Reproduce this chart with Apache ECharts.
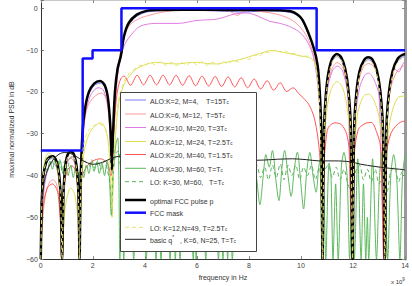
<!DOCTYPE html>
<html><head><meta charset="utf-8">
<script src="https://cdn.jsdelivr.net/npm/echarts/dist/echarts.min.js"></script>
<style>html,body{margin:0;padding:0;background:#fff}#c{width:412px;height:286px}</style>
</head><body><div id="c"></div>
<script>
// ---- axis ticks ----
const xTicks = [0, 2, 4, 6, 8, 10, 12, 14];
const yTicks = [0, -10, -20, -30, -40, -50, -60];

// ---- series values: [frequency (x1e9 Hz), PSD dB] ----
const fccMask = [[0,-34],[1.61,-34],[1.61,-12],[1.99,-12],[1.99,-10],[3.1,-10],[3.1,0],[10.6,0],[10.6,-10],[14,-10]];

const optimalP = [[0,-60],[0.04,-46],[0.1,-40],[0.2,-37],[0.3,-35.8],[0.45,-35.4],[0.6,-36.5],[0.7,-39.5],[0.77,-46],[0.82,-60],
[0.87,-45],[0.93,-38.5],[1.02,-35.2],[1.15,-34.2],[1.28,-35],[1.38,-38],[1.45,-45],[1.49,-60],
[1.53,-42],[1.6,-30],[1.7,-24],[1.85,-20],[2.05,-18],[2.28,-17.4],[2.45,-18.3],[2.57,-21],[2.65,-26],[2.7,-32],[2.73,-38.5],
[2.77,-31],[2.85,-20],[2.95,-14.5],[3.08,-11.3],[3.2,-6.6],[3.38,-3.5],[3.69,-1.5],[4.06,-0.6],[4.5,-0.4],[5.5,-0.35],[6.5,-0.35],[7.5,-0.4],[8.5,-0.4],[9.2,-0.45],[9.6,-0.7],[9.85,-1.4],[10.05,-2.7],[10.28,-5.8],[10.5,-9.7],[10.64,-13.7],[10.72,-20],[10.78,-30],[10.83,-60],
[10.88,-30],[10.95,-21],[11.05,-15.5],[11.2,-12],[11.38,-10.9],[11.55,-11.8],[11.7,-14.5],[11.82,-19.5],[11.91,-28],[11.98,-60],
[12.04,-29],[12.13,-20],[12.25,-15],[12.42,-12.4],[12.58,-11.7],[12.75,-12.3],[12.92,-15],[13.05,-20],[13.15,-29],[13.22,-60],
[13.28,-29],[13.38,-20],[13.52,-15],[13.72,-12],[13.9,-11.1],[14,-11]];

const aloK2 = [[0,-60],[0.04,-47],[0.1,-40.5],[0.2,-37.5],[0.3,-36.3],[0.45,-35.9],[0.6,-37],[0.7,-40],[0.77,-47],[0.82,-60],
[0.87,-46],[0.93,-39],[1.02,-35.7],[1.15,-34.7],[1.28,-35.5],[1.38,-38.5],[1.45,-46],[1.49,-60],
[1.53,-43],[1.6,-31],[1.7,-24.5],[1.85,-20.5],[2.05,-18.5],[2.28,-17.9],[2.45,-18.8],[2.57,-21.5],[2.65,-26.5],[2.7,-33],[2.73,-39],
[2.77,-32],[2.85,-21],[2.95,-15],[3.08,-11.8],[3.2,-7],[3.38,-3.9],[3.69,-1.9],[4.06,-0.9],[4.5,-0.6],[5.5,-0.5],[6.5,-0.55],[7.2,-0.7],[7.7,-0.9],[8.1,-0.8],[8.6,-0.6],[9.2,-0.7],[9.6,-1.0],[9.85,-1.7],[10.05,-3],[10.28,-6.1],[10.5,-10],[10.64,-14],[10.72,-20.5],[10.78,-30],[10.83,-60],
[10.88,-31],[10.95,-22],[11.05,-16],[11.2,-12.6],[11.38,-11.5],[11.55,-12.4],[11.7,-15],[11.82,-20],[11.91,-29],[11.98,-60],
[12.04,-30],[12.13,-21],[12.25,-15.6],[12.42,-13],[12.58,-12.3],[12.75,-12.9],[12.92,-15.6],[13.05,-21],[13.15,-30],[13.22,-60],
[13.28,-30],[13.38,-21],[13.52,-15.6],[13.72,-12.6],[13.9,-11.7],[14,-11.6]];

const aloK6 = [[0,-60],[0.08,-50],[0.2,-44],[0.35,-41.5],[0.47,-41],[0.6,-42],[0.72,-46],[0.8,-60],
[0.88,-44],[0.98,-38],[1.1,-35.8],[1.2,-35.5],[1.3,-36.5],[1.42,-41],[1.49,-60],
[1.55,-40],[1.65,-28],[1.8,-23.5],[2.0,-21.5],[2.2,-20.5],[2.35,-20.3],[2.5,-21.5],[2.6,-25],[2.68,-32],[2.73,-38],
[2.8,-30],[2.9,-20],[3.0,-13],[3.1,-9],[3.25,-6],[3.45,-3.8],[3.8,-2.4],[4.2,-1.6],[4.6,-1.0],[5,-0.6],[5.5,-0.4],[6,-0.35],[6.5,-0.6],[7,-0.35],[7.3,-0.8],[7.55,-1.7],[7.8,-0.7],[8.1,-0.45],[8.5,-0.8],[9.0,-1.3],[9.5,-2.3],[9.8,-3.5],[10.1,-5.5],[10.35,-8.5],[10.55,-13],[10.7,-20],[10.78,-30],[10.83,-60],
[10.9,-30],[11.0,-20],[11.15,-15],[11.38,-13],[11.6,-14],[11.75,-18],[11.88,-26],[11.97,-60],
[12.05,-28],[12.2,-18],[12.4,-14],[12.6,-13.2],[12.8,-14],[13.0,-17],[13.12,-24],[13.22,-60],
[13.3,-28],[13.45,-19],[13.7,-15],[14,-13.5]];

const aloK10 = [[0,-60],[0.1,-45],[0.25,-39],[0.45,-37],[0.6,-38],[0.72,-42],[0.8,-60],
[0.88,-42],[1.0,-37],[1.15,-35.8],[1.3,-37],[1.42,-42],[1.49,-60],
[1.55,-40],[1.7,-26],[1.9,-21],[2.2,-19],[2.4,-19.5],[2.6,-24],[2.72,-38],
[2.85,-22],[3.0,-14],[3.2,-9],[3.44,-6.6],[3.81,-4.3],[4.42,-3.6],[5.28,-3.6],[6,-2.9],[6.74,-2.6],[7.1,-2.0],[7.47,-1.3],[7.9,-1.1],[8.2,-1.5],[8.5,-2.3],[8.8,-3.1],[9.2,-3.6],[9.55,-4.3],[9.9,-5.5],[10.2,-7.5],[10.45,-11],[10.62,-17],[10.74,-27],[10.82,-60],
[10.9,-28],[11.0,-20],[11.2,-15],[11.4,-13.8],[11.6,-15],[11.8,-21],[11.97,-60],
[12.08,-27],[12.25,-19],[12.45,-16],[12.6,-15.5],[12.8,-17],[13.0,-21],[13.2,-60],
[13.3,-26],[13.45,-18],[13.6,-14.5],[13.75,-15.2],[13.9,-13.5],[14,-12.5]];

const aloK12 = [[0,-60],[0.06,-42],[0.15,-36.5],[0.3,-34.6],[0.45,-35.2],[0.6,-37.5],[0.72,-43],[0.81,-60],
[0.9,-50],[1.0,-45.5],[1.15,-43],[1.3,-44.5],[1.42,-50],[1.49,-60],
[1.55,-45],[1.65,-35],[1.8,-31],[2.0,-28.6],[2.3,-27.4],[2.45,-28.3],[2.58,-31.5],[2.67,-38],[2.74,-50],
[2.8,-38],[2.9,-28],[3.0,-22.5],[3.08,-20.3],[3.25,-17.5],[3.44,-16],[3.6,-14.8],[3.81,-14],[4.1,-13.3],[4.42,-12.9],[4.85,-13.2],[5.28,-13.3],[5.65,-13],[6,-12.9],[6.4,-13.2],[6.74,-13.3],[7.1,-12.9],[7.47,-12.5],[7.8,-12],[8.2,-11.2],[8.58,-10.5],[8.82,-10.1],[9.05,-10.2],[9.3,-10.5],[9.7,-11],[10.0,-11.4],[10.28,-11.7],[10.45,-12.3],[10.58,-14],[10.67,-19],[10.75,-28],[10.82,-60],
[10.9,-32],[11.0,-24],[11.15,-19.5],[11.38,-17.5],[11.6,-19],[11.78,-24],[11.92,-34],[11.98,-60],
[12.05,-34],[12.18,-25],[12.4,-21],[12.6,-20.5],[12.8,-22],[13.0,-26],[13.15,-34],[13.22,-60],
[13.3,-34],[13.45,-26],[13.7,-21.5],[13.95,-21],[14,-21]];

const aloK20 = [[0,-60],[0.08,-48],[0.25,-43],[0.45,-42],[0.65,-44],[0.78,-52],[0.85,-45],[1.0,-39],[1.2,-37.7],[1.35,-39],[1.47,-46],[1.55,-41],[1.75,-38],[2.0,-36.5],[2.3,-36],[2.55,-37],[2.7,-40],[2.8,-30],[2.9,-22],[2.97,-19],[3.08,-16.8],
[3.2,-16.2],[3.45,-18.4],[3.7,-16],[3.95,-18.3],[4.2,-16],[4.45,-18.3],[4.7,-16],[4.95,-18.3],[5.2,-16],[5.45,-18.4],[5.7,-16.1],[5.95,-18.5],[6.2,-16.2],[6.45,-18.6],[6.7,-16.3],[6.95,-18.7],[7.2,-16.4],[7.45,-18.8],[7.7,-16.6],[7.95,-19],[8.2,-16.9],[8.45,-19.3],[8.7,-17.3],[8.95,-19.6],[9.2,-17.8],[9.45,-19.9],[9.7,-19],[9.9,-20.3],[10.1,-21.5],[10.3,-23],[10.5,-26],[10.65,-31],[10.75,-38],[10.82,-60],
[10.88,-38],[10.95,-32],[11.05,-28.5],[11.3,-27.4],[11.55,-27.8],[11.75,-30],[11.85,-34],[11.95,-60],
[12.05,-35],[12.2,-29],[12.45,-27.6],[12.7,-27.3],[12.9,-29.5],[13.05,-33],[13.18,-60],
[13.28,-35],[13.45,-30],[13.7,-27.8],[13.95,-27],[14,-27]];

const aloK30 = [[0,-60],[0.08,-44],[0.15,-37.5],[0.25,-39],[0.35,-36.5],[0.45,-38.5],[0.55,-36],[0.65,-38.8],[0.75,-36.5],[0.85,-39.5],[0.95,-37],[1.05,-40],[1.15,-37.5],[1.25,-40.5],[1.35,-37.5],[1.45,-41],[1.55,-38],[1.65,-40.5],[1.75,-37.5],[1.85,-39.5],[1.95,-36.8],[2.05,-39],[2.15,-36.8],[2.25,-39.5],[2.35,-37],[2.45,-40],[2.55,-36.5],[2.63,-40],[2.71,-49.5],[2.8,-38],[2.9,-32],[2.96,-31],[3.0,-40],[3.04,-60],
[3.1,-45],[3.19,-60],[3.3,-35],[3.45,-40],[3.57,-60],[3.7,-38],[3.85,-35.5],[3.95,-42],[4.05,-60],[4.2,-40],[4.3,-36],[4.43,-60],[4.52,-42],[4.62,-60],[4.75,-37],[4.88,-44],[4.97,-60],[5.07,-45],[5.17,-60],[5.26,-46],[5.35,-60],[5.5,-37],[5.62,-35.5],[5.75,-42],[5.86,-60],[5.92,-48],[5.97,-60],[6.1,-38],[6.2,-39],[6.34,-60],[6.45,-40],[6.58,-36],[6.7,-43],[6.83,-60],[6.92,-46],[7.0,-60],[7.09,-45],[7.18,-60],[7.27,-45],[7.36,-60],
[7.5,-40],[7.65,-35],[7.8,-42],[7.93,-47],[8.05,-40],[8.15,-35],[8.3,-41],[8.42,-47],[8.55,-40],[8.65,-35],[8.78,-38],[8.9,-34],[9.05,-42],[9.15,-46],[9.27,-38],[9.37,-34],[9.5,-40],[9.62,-45],[9.75,-38],[9.86,-34.4],[9.98,-41],[10.1,-48],[10.22,-39],[10.34,-34.5],[10.46,-40],[10.58,-44],[10.68,-38],[10.74,-36],[10.8,-60],
[10.88,-45],[10.95,-60],[11.08,-37],[11.15,-40],[11.23,-60],[11.33,-42],[11.43,-60],[11.55,-38],[11.65,-34.5],[11.77,-40],[11.87,-60],[11.96,-44],[12.05,-60],[12.18,-36],[12.31,-60],[12.4,-42],[12.49,-60],[12.55,-50],[12.6,-60],[12.75,-36],[12.9,-60],[13.02,-40],[13.12,-34.5],[13.22,-38],[13.33,-60],[13.45,-40],[13.56,-35],[13.68,-41],[13.8,-60],[13.9,-40],[14,-35]];

const loK30 = [[0,-60],[0.08,-42],[0.18,-36.5],[0.3,-35.2],[0.42,-37],[0.52,-35.5],[0.62,-38],[0.72,-36],[0.82,-39],[0.92,-36.5],[1.02,-38.5],[1.12,-36],[1.22,-35.5],[1.32,-37],[1.42,-38.5],[1.5,-43],[1.58,-38],[1.7,-36.5],[1.82,-38.5],[1.95,-36.2],[2.08,-38.3],[2.2,-36.3],[2.32,-38.5],[2.45,-36.5],[2.57,-39],[2.66,-42],[2.71,-46],[2.78,-39],[2.88,-35],[2.98,-34],[3.08,-38],[3.2,-36],[3.35,-39],[3.5,-37],
[3.65,-40],[3.8,-37.5],[3.95,-41],[4.1,-37.5],[4.25,-40.5],[4.4,-38],[4.55,-41],[4.7,-37.5],[4.85,-40.5],[5.0,-38],[5.15,-41],[5.3,-37.5],[5.45,-40.5],[5.6,-38],[5.75,-41],[5.9,-37.5],[6.05,-40.5],[6.2,-38],[6.35,-41],[6.5,-37.5],[6.65,-40.5],[6.8,-38],[6.95,-41],[7.1,-37.5],[7.25,-40.5],[7.4,-38],[7.55,-41],[7.7,-37.5],[7.85,-40.5],[8.0,-38],[8.15,-41],[8.3,-37.5],[8.45,-40.5],
[8.6,-38],[8.75,-41],[8.9,-37.5],[9.05,-40.5],[9.2,-37.2],[9.35,-41],[9.5,-37.5],[9.65,-40],[9.8,-37.5],[9.95,-41],[10.1,-38],[10.25,-40],[10.4,-37.5],[10.55,-41],[10.7,-38],[10.8,-45],[10.9,-39],[11.05,-37.5],[11.2,-40.5],[11.35,-38],[11.5,-41],[11.65,-38.5],[11.8,-42],[11.95,-44],[12.1,-39],[12.25,-37.5],[12.4,-41],[12.55,-38.5],[12.7,-41.5],[12.85,-38.5],[13.0,-42],[13.15,-40],[13.3,-44],[13.45,-39],[13.6,-38],[13.75,-41.5],[13.9,-39],[14,-40]];

const loK12 = [[0,-60],[0.05,-45],[0.12,-39],[0.25,-36.2],[0.45,-35.6],[0.6,-36.8],[0.7,-40],[0.77,-47],[0.82,-60],
[0.87,-46],[0.93,-39],[1.03,-35.6],[1.15,-34.8],[1.28,-35.6],[1.38,-38.6],[1.45,-46],[1.49,-60],
[1.53,-45],[1.62,-34],[1.8,-29.5],[2.05,-28],[2.3,-27.8],[2.5,-29],[2.62,-33],[2.7,-40],[2.74,-48],
[2.8,-37],[2.9,-27],[3.0,-21.5],[3.1,-19.3],[3.25,-16.8],[3.45,-15.3],[3.65,-14.3],[3.85,-13.6],[4.0,-13.6],[4.2,-12.9],[4.4,-13.5],[4.6,-12.8],[4.8,-13.6],[5.0,-12.9],[5.2,-13.7],[5.4,-12.9],[5.6,-13.6],[5.8,-12.8],[6.0,-13.5],[6.2,-12.8],[6.4,-13.6],[6.6,-12.9],[6.8,-13.5],[7.0,-12.7],[7.2,-13.3],[7.4,-12.4],[7.6,-12.9],[7.8,-11.9],[8.0,-12.2],[8.2,-11.2],[8.4,-11.4],[8.6,-10.4],[8.8,-10.6],[9.0,-9.9],[9.2,-10.4],[9.4,-10.2],[9.6,-10.9],[9.8,-10.8],[10.0,-11.5],[10.2,-11.4],[10.4,-12],[10.55,-13.5],[10.65,-17.5],[10.74,-26],[10.83,-60],
[10.88,-31],[10.95,-22],[11.05,-16.5],[11.2,-12.8],[11.38,-11.5],[11.55,-12.4],[11.7,-15.2],[11.82,-20.5],[11.91,-29],[11.98,-60],
[12.04,-30],[12.13,-21],[12.25,-16],[12.42,-13.2],[12.58,-12.5],[12.75,-13.1],[12.92,-16],[13.05,-21],[13.15,-30],[13.22,-60],
[13.28,-30],[13.38,-21],[13.52,-16],[13.72,-12.8],[13.9,-11.9],[14,-11.8]];

const basicQ = [[0,-47],[0.15,-41],[0.3,-38],[0.5,-36],[0.7,-34.9],[0.9,-34.5],[1.1,-34.6],[1.3,-35.2],[1.5,-36],[1.7,-36.7],[1.9,-37.2],[2.05,-37.3],[2.25,-37.1],[2.5,-36.5],[2.75,-35.8],[3.0,-35.4],[3.3,-35.3],[3.6,-35.5],[4,-36],[4.5,-36.4],[5,-36.5],[5.5,-36.3],[6,-36.5],[6.5,-36.8],[7,-36.8],[7.5,-36.6],[8,-36.4],[8.57,-36.3],[9.1,-36.1],[9.67,-36],[10.2,-36.2],[10.7,-36.5],[11.3,-36.5],[11.87,-36.7],[12.3,-37.3],[12.8,-37.8],[13.3,-38.2],[13.94,-38.6],[14,-38.7]];

// ---- legend entries ----
const legendNames = [
  ['ALO:K=2, M=4,    T=15T','c'],
  ['ALO:K=6, M=12,  T=5T','c'],
  ['ALO:K=10, M=20, T=3T','c'],
  ['ALO:K=12, M=24, T=2.5T','c'],
  ['ALO:K=20, M=40, T=1.5T','c'],
  ['ALO:K=30, M=60, T=T','c'],
  ['LO: K=30, M=60,   T=T','c'],
  ['optimal FCC pulse p',''],
  ['FCC mask',''],
  ['LO: K=12,N=49, T=2.5T','c'],
  ['basic q*   , K=6, N=25, T=T','c']
];

const FONT = '"Liberation Sans", Arial, sans-serif';
const seriesDefs = [
  {data: aloK2,   color:'#7b7bff', width:1,   type:'solid'},
  {data: aloK6,   color:'#ff9a9a', width:1,   type:'solid'},
  {data: aloK10,  color:'#e07ce0', width:1,   type:'solid'},
  {data: aloK12,  color:'#dede55', width:1,   type:'solid'},
  {data: aloK20,  color:'#ff5555', width:1,   type:'solid'},
  {data: aloK30,  color:'#5cb85c', width:1,   type:'solid'},
  {data: loK30,   color:'#5cb05c', width:1,   type:[4,3]},
  {data: optimalP,color:'#000000', width:2.5, type:'solid'},
  {data: fccMask, color:'#1010ff', width:2.5, type:'solid', step:true},
  {data: loK12,   color:'#e4e470', width:1,   type:[4,3]},
  {data: basicQ,  color:'#222222', width:1,   type:'solid'}
];
const legendY = [100,114,127.5,141.5,154.5,168.3,181.7,200,212.7,227.3,239.3];

const chart = echarts.init(document.getElementById('c'), null, {renderer:'svg'});

const series = seriesDefs.map((d,i)=>({
  type:'line', data:d.data, showSymbol:false, symbol:'none',
  smooth: d.step ? false : 0.3, clip:true, z: 2+i*0.01,
  lineStyle:{color:d.color, width:d.width, type:d.type},
  animation:false, silent:true
}));

const graphics = [{
  type:'rect', z:100, shape:{x:120.5,y:92.5,width:136,height:159},
  style:{fill:'#fff', stroke:'#444', lineWidth:1}
}];
legendNames.forEach((n,i)=>{
  const d = seriesDefs[i], y = legendY[i];
  graphics.push({type:'line', z:101, shape:{x1:125,y1:y,x2:146,y2:y},
    style:{stroke:d.color, lineWidth:d.width, lineDash: Array.isArray(d.type)? d.type : null}});
  let txt;
  if (i === 10) {
    txt = '{a|basic q}{p|*}{a|   , K=6, N=25, T=T}{s|c}';
  } else {
    txt = '{a|' + n[0] + '}' + (n[1] ? '{s|' + n[1] + '}' : '');
  }
  graphics.push({type:'text', z:101, x:150, y:y,
    style:{text:txt, fill:'#333', font:'7px '+FONT, verticalAlign:'middle', align:'left',
      rich:{a:{fontSize:7, fontFamily:FONT, fill:'#333', lineHeight:9, verticalAlign:'bottom'},
            s:{fontSize:4.5, fontFamily:FONT, fill:'#333', lineHeight:9, verticalAlign:'bottom', padding:[2,0,0,0]},
            p:{fontSize:5, fontFamily:FONT, fill:'#333', lineHeight:9, verticalAlign:'top'}}}});
});
graphics.push({type:'text', z:101, x:391, y:277,
  style:{text:'{a|x 10}{p|9}', font:'6px '+FONT, fill:'#333',
    rich:{a:{fontSize:6, fontFamily:FONT, fill:'#333', lineHeight:8, verticalAlign:'bottom'},
          p:{fontSize:4.5, fontFamily:FONT, fill:'#333', lineHeight:8, verticalAlign:'top'}}}});

const labelFmt = v => (yTicks.indexOf(v) >= 0 ? String(v).replace('-', '\u2212') : '');
const xFmt = v => (xTicks.indexOf(v) >= 0 ? String(v) : '');

chart.setOption({
  animation:false,
  backgroundColor:'#fff',
  textStyle:{fontFamily:FONT},
  grid:{left:26, right:4, top:0, bottom:22, containLabel:false},
  xAxis:[
    {type:'value', min:0, max:14, interval:2, position:'bottom',
     axisLine:{show:true, onZero:false, lineStyle:{color:'#333', width:1}},
     axisTick:{show:true, inside:true, length:3, lineStyle:{color:'#888'}},
     axisLabel:{fontSize:7, color:'#444', margin:3, formatter:xFmt, fontFamily:FONT},
     splitLine:{show:false},
     name:'frequency in Hz', nameLocation:'middle', nameGap:12,
     nameTextStyle:{fontSize:7, color:'#333', fontFamily:FONT}},
    {type:'value', min:0, max:14, interval:2, position:'top',
     axisLine:{show:true, onZero:false, lineStyle:{color:'#c8c8c8', width:1}},
     axisTick:{show:true, inside:true, length:3, lineStyle:{color:'#888'}},
     axisLabel:{show:false}, splitLine:{show:false}}
  ],
  yAxis:[
    {type:'value', min:-60, max:2, interval:10, position:'left',
     axisLine:{show:true, onZero:false, lineStyle:{color:'#333', width:1}},
     axisTick:{show:true, inside:true, length:3, lineStyle:{color:'#666'}},
     axisLabel:{fontSize:7, color:'#444', margin:3, formatter:labelFmt, fontFamily:FONT},
     splitLine:{show:false},
     name:'maximal normalized PSD in dB', nameLocation:'middle', nameGap:15, nameRotate:90,
     nameTextStyle:{fontSize:7, color:'#333', fontFamily:FONT}},
    {type:'value', min:-60, max:2, interval:10, position:'right',
     axisLine:{show:true, onZero:false, lineStyle:{color:'#9a9a9a', width:3}},
     axisTick:{show:true, inside:true, length:3, lineStyle:{color:'#888'}},
     axisLabel:{show:false}, splitLine:{show:false}}
  ],
  series: series,
  graphic: graphics
});
</script>
</body></html>
